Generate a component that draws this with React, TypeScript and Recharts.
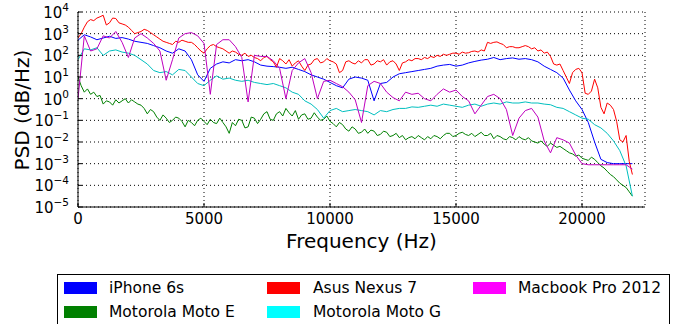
import React from "react";
import { LineChart, Line, XAxis, YAxis, CartesianGrid } from "recharts";

// frequency bins (Hz)
const FREQS = [
  0, 250, 500, 750, 1000, 1250, 1500, 1750, 2000, 2250,
  2500, 2750, 3000, 3250, 3500, 3750, 4000, 4250, 4500, 4750,
  5000, 5250, 5500, 5750, 6000, 6250, 6500, 6750, 7000, 7250,
  7500, 7750, 8000, 8250, 8500, 8750, 9000, 9250, 9500, 9750,
  10000, 10250, 10500, 10750, 11000, 11250, 11500, 11750, 12000, 12250,
  12500, 12750, 13000, 13250, 13500, 13750, 14000, 14250, 14500, 14750,
  15000, 15250, 15500, 15750, 16000, 16250, 16500, 16750, 17000, 17250,
  17500, 17750, 18000, 18250, 18500, 18750, 19000, 19250, 19500, 19750,
  20000, 20250, 20500, 20750, 21000, 21250, 21500, 21750, 22000,
];

// finer bins for the two noisiest traces
const FREQS_FINE = [
  0, 125, 250, 375, 500, 625, 750, 875, 1000, 1125,
  1250, 1375, 1500, 1625, 1750, 1875, 2000, 2125, 2250, 2375,
  2500, 2625, 2750, 2875, 3000, 3125, 3250, 3375, 3500, 3625,
  3750, 3875, 4000, 4125, 4250, 4375, 4500, 4625, 4750, 4875,
  5000, 5125, 5250, 5375, 5500, 5625, 5750, 5875, 6000, 6125,
  6250, 6375, 6500, 6625, 6750, 6875, 7000, 7125, 7250, 7375,
  7500, 7625, 7750, 7875, 8000, 8125, 8250, 8375, 8500, 8625,
  8750, 8875, 9000, 9125, 9250, 9375, 9500, 9625, 9750, 9875,
  10000, 10125, 10250, 10375, 10500, 10625, 10750, 10875, 11000, 11125,
  11250, 11375, 11500, 11625, 11750, 11875, 12000, 12125, 12250, 12375,
  12500, 12625, 12750, 12875, 13000, 13125, 13250, 13375, 13500, 13625,
  13750, 13875, 14000, 14125, 14250, 14375, 14500, 14625, 14750, 14875,
  15000, 15125, 15250, 15375, 15500, 15625, 15750, 15875, 16000, 16125,
  16250, 16375, 16500, 16625, 16750, 16875, 17000, 17125, 17250, 17375,
  17500, 17625, 17750, 17875, 18000, 18125, 18250, 18375, 18500, 18625,
  18750, 18875, 19000, 19125, 19250, 19375, 19500, 19625, 19750, 19875,
  20000, 20125, 20250, 20375, 20500, 20625, 20750, 20875, 21000, 21125,
  21250, 21375, 21500, 21625, 21750, 21875, 22000,
];

// PSD values, stored as log10
const IPHONE_6S = [
  2.7, 2.95, 2.85, 2.72, 2.8, 2.88, 2.78, 2.82, 2.75, 2.65,
  2.6, 2.55, 2.45, 2.35, 2.2, 2.1, 2.3, 2.2, 1.8, 1.1,
  0.8, 1.4, 1.6, 1.7, 1.65, 1.8, 1.75, 1.8, 1.7, 1.55,
  1.5, 1.48, 1.45, 1.4, 1.45, 1.35, 1.25, 1.1, 1.0, 0.9,
  0.75, 0.6, 0.5, 0.9, 1.0, 0.95, 0.85, -0.1, 0.7, 0.75,
  1.0, 1.15, 1.2, 1.25, 1.3, 1.35, 1.4, 1.5, 1.55, 1.58,
  1.5, 1.55, 1.65, 1.72, 1.78, 1.82, 1.9, 1.8, 1.85, 1.88,
  1.82, 1.85, 1.8, 1.7, 1.5, 1.35, 1.2, 0.95, 0.4, -0.1,
  -0.5, -1.1, -2.0, -2.8, -2.95, -3.0, -3.0, -3.0, -3.0,
];

// on FREQS_FINE
const NEXUS_7 = [
  2.8, 3.0, 3.3, 3.55, 3.65, 3.6, 3.72, 3.78, 3.85, 3.4,
  3.5, 3.72, 3.7, 3.5, 3.45, 3.4, 3.3, 3.15, 3.0, 3.05,
  3.1, 3.2, 3.15, 3.05, 2.95, 2.85, 2.75, 2.65, 2.6, 2.55,
  2.5, 2.65, 2.6, 2.7, 2.65, 2.6, 2.6, 2.5, 2.35, 2.2,
  2.1, 2.3, 2.45, 2.5, 2.4, 2.35, 2.3, 2.2, 2.1, 2.2,
  2.15, 2.05, 2.0, 2.1, 1.95, 2.0, 1.9, 1.85, 1.75, 1.9,
  1.95, 1.8, 1.7, 1.45, 1.85, 1.75, 1.6, 1.8, 1.5, 1.65,
  1.75, 1.5, 1.3, 1.55, 1.6, 1.8, 1.85, 1.65, 1.7, 1.85,
  1.75, 1.7, 1.6, 1.2, 1.3, 1.7, 1.75, 1.65, 1.6, 1.75,
  1.65, 1.8, 1.8, 1.55, 1.6, 1.75, 1.7, 1.8, 1.55, 1.7,
  1.75, 1.6, 1.3, 1.65, 1.7, 1.8, 1.75, 1.85, 1.85, 1.8,
  1.9, 1.85, 1.95, 1.9, 2.0, 1.95, 2.05, 2.0, 2.05, 2.1,
  2.1, 2.05, 2.15, 2.1, 2.12, 2.18, 2.2, 2.15, 2.25, 2.2,
  2.6, 2.55, 2.6, 2.62, 2.55, 2.5, 2.35, 2.4, 2.4, 2.35,
  2.35, 2.4, 2.45, 2.4, 2.3, 2.35, 2.2, 2.25, 2.1, 2.15,
  1.95, 1.6, 1.55, 1.6, 1.3, 1.0, 0.7, 1.2, 1.35, 1.4,
  1.2, 0.25, 0.2, 0.35, 0.9, 0.5, -0.4, -0.7, -0.2, -0.3,
  -0.5, -1.05, -1.9, -2.0, -1.7, -2.9, -3.5,
];

const MACBOOK_PRO = [
  0.0, 2.9, 2.2, 2.3, 2.9, 2.8, 3.1, 2.6, 1.9, 2.8,
  3.0, 2.8, 2.55, 2.2, 0.85, 1.8, 2.8, 3.0, 3.05, 2.9,
  2.55, 0.2, 2.5, 2.72, 2.72, 2.4, 1.9, -0.15, 2.0, 1.95,
  1.95, 1.75, 1.4, 0.0, 1.3, 1.65, 1.85, 1.2, 0.0, 0.8,
  0.85, 0.7, 0.55, 0.3, -0.05, -1.1, 0.6, 0.8, 0.7, 0.3,
  0.05, -0.1, 0.3, 0.2, 0.25, 0.0, -0.1, 0.2, 0.45, 0.3,
  0.4, 0.1, -0.1, -0.7, -0.3, 0.1, 0.2, 0.0, -0.5, -1.7,
  -0.9, -0.55, -0.45, -0.85, -1.95, -2.5, -1.8, -1.9, -2.05, -2.6,
  -3.0, -3.05, -3.05, -3.05, -3.05, -3.05, -3.05, -3.05, -3.25,
];

// on FREQS_FINE
const MOTO_E = [
  1.0, 0.6, 0.3, 0.45, 0.2, 0.3, 0.1, 0.15, -0.25, -0.1,
  -0.15, -0.3, -0.05, -0.2, -0.1, 0.0, -0.2, -0.05, -0.15, -0.25,
  -0.3, -0.45, -0.7, -0.5, -0.6, -0.85, -1.0, -0.75, -0.9, -1.1,
  -1.0, -0.85, -0.9, -1.05, -1.3, -1.0, -1.1, -1.25, -1.0, -0.9,
  -1.05, -1.2, -0.95, -1.1, -1.15, -0.9, -1.1, -1.3, -1.6, -1.1,
  -1.25, -0.95, -1.0, -1.35, -1.3, -0.85, -0.9, -1.15, -0.95, -0.7,
  -0.6, -0.95, -1.0, -0.7, -0.6, -0.8, -0.45, -0.65, -0.8, -0.55,
  -0.95, -0.75, -0.7, -0.95, -0.9, -0.65, -0.85, -1.0, -0.95, -0.8,
  -1.05, -1.15, -1.3, -1.1, -1.2, -1.4, -1.5, -1.3, -1.4, -1.6,
  -1.55, -1.4, -1.6, -1.45, -1.5, -1.7, -1.65, -1.5, -1.55, -1.75,
  -1.7, -1.6, -1.8, -1.7, -1.9, -1.8, -1.75, -1.85, -1.7, -1.8,
  -1.9, -1.75, -1.85, -1.7, -1.75, -1.85, -1.7, -1.6, -1.6, -1.75,
  -1.7, -1.6, -1.55, -1.65, -1.7, -1.6, -1.75, -1.65, -1.55, -1.7,
  -1.7, -1.6, -1.85, -1.7, -1.75, -1.85, -1.9, -1.75, -1.8, -1.9,
  -1.75, -1.85, -1.9, -1.8, -1.95, -2.0, -2.05, -1.95, -2.1, -2.2,
  -2.05, -2.15, -2.25, -2.2, -2.3, -2.4, -2.5, -2.55, -2.65, -2.6,
  -2.75, -2.8, -2.85, -2.7, -2.8, -2.95, -3.1, -3.2, -3.35, -3.5,
  -3.6, -3.75, -3.9, -4.0, -4.1, -4.3, -4.5,
];

const MOTO_G = [
  1.8, 2.3, 2.25, 2.35, 2.0, 2.2, 2.25, 2.15, 2.1, 2.0,
  1.8, 1.6, 1.3, 1.2, 1.25, 1.1, 1.35, 1.3, 1.0, 0.7,
  0.6, 0.85, 1.05, 0.9, 0.95, 0.85, 0.8, 0.85, 0.75, 0.7,
  0.65, 0.7, 0.6, 0.5, 0.3, 0.2, -0.1, -0.25, -0.5, -0.9,
  -0.55, -0.45, -0.6, -0.55, -0.5, -0.55, -0.6, -0.75, -0.55, -0.6,
  -0.5, -0.45, -0.45, -0.38, -0.4, -0.35, -0.3, -0.35, -0.25, -0.3,
  -0.35, -0.4, -0.3, -0.25, -0.35, -0.25, -0.2, -0.25, -0.15, -0.2,
  -0.2, -0.15, -0.2, -0.2, -0.25, -0.28, -0.4, -0.45, -0.6, -0.75,
  -0.9, -0.95, -1.2, -1.35, -1.6, -1.95, -2.4, -3.1, -4.5,
];

const X_TICKS = [0, 5000, 10000, 15000, 20000];
const DECADES = [-5, -4, -3, -2, -1, 0, 1, 2, 3, 4];

// draw order = matplotlib plot order (legend fills column-wise)
const SERIES = [
  { key: "iphone", name: "iPhone 6s", freqs: FREQS, values: IPHONE_6S, line: "#0000ff", patch: "#0000ff" },
  { key: "motoE", name: "Motorola Moto E", freqs: FREQS_FINE, values: MOTO_E, line: "#008000", patch: "#008000" },
  { key: "nexus", name: "Asus Nexus 7", freqs: FREQS_FINE, values: NEXUS_7, line: "#ff0000", patch: "#ff0000" },
  { key: "motoG", name: "Motorola Moto G", freqs: FREQS, values: MOTO_G, line: "#00bfbf", patch: "#00ffff" },
  { key: "macbook", name: "Macbook Pro 2012", freqs: FREQS, values: MACBOOK_PRO, line: "#bf00bf", patch: "#ff00ff" },
];

const seriesData = (s: (typeof SERIES)[number]) =>
  s.freqs.map((f, i) => ({ f, psd: Math.pow(10, s.values[i]) }));

const majorTicks = DECADES.map((d) => Math.pow(10, d));
const minorTicks: number[] = [];
DECADES.slice(0, -1).forEach((d) => {
  for (let m = 2; m <= 9; m++) minorTicks.push(m * Math.pow(10, d));
});

const FONT = "'DejaVu Sans', sans-serif";
const W = 683;
const H = 324;

const YTick = (props: any) => {
  const { x, y, payload } = props;
  const e = Math.round(Math.log10(payload.value));
  const exp = e < 0 ? "\u2212" + Math.abs(e) : String(e);
  return (
    <text x={x} y={y + 6} textAnchor="end" fontFamily={FONT} fontSize={15} fill="#000">
      <tspan>10</tspan>
      <tspan dy={-7} fontSize={10.5}>{exp}</tspan>
    </text>
  );
};

const XTick = (props: any) => {
  const { x, y, payload } = props;
  return (
    <text x={x} y={y + 11} textAnchor="middle" fontFamily={FONT} fontSize={15} fill="#000">
      {payload.value}
    </text>
  );
};

// legend slots: [series key, patch left, text left, row]
const LEGEND_SLOTS: [string, number, number, number][] = [
  ["iphone", 6, 51, 0],
  ["nexus", 209, 255, 0],
  ["macbook", 415, 460, 0],
  ["motoE", 6, 51, 1],
  ["motoG", 209, 255, 1],
];

export default function App() {
  return (
    <div style={{ position: "relative", width: W, height: H, overflow: "hidden", background: "#fff" }}>
      <style>{`body{margin:0}`}</style>
      <LineChart width={W} height={H} margin={{ top: 12, right: 38, bottom: 87, left: 0 }}>
        <CartesianGrid xAxisId="main" yAxisId="main" stroke="#000" strokeDasharray="1 3" />
        <XAxis
          xAxisId="main"
          dataKey="f"
          type="number"
          domain={[0, 22500]}
          ticks={X_TICKS}
          interval={0}
          height={30}
          tickSize={-4}
          tickMargin={10}
          tick={<XTick />}
          axisLine={{ stroke: "#000" }}
          tickLine={{ stroke: "#000" }}
          allowDataOverflow
        />
        <XAxis
          xAxisId="top"
          orientation="top"
          dataKey="f"
          type="number"
          domain={[0, 22500]}
          ticks={X_TICKS}
          interval={0}
          height={0}
          tickSize={-4}
          tick={false}
          axisLine={{ stroke: "#000" }}
          tickLine={{ stroke: "#000" }}
          allowDataOverflow
        />
        <YAxis
          yAxisId="minorL"
          scale="log"
          domain={[1e-5, 1e4]}
          ticks={minorTicks}
          interval={0}
          width={0}
          tickSize={-2}
          tick={false}
          axisLine={false}
          tickLine={{ stroke: "#000" }}
          allowDataOverflow
        />
        <YAxis
          yAxisId="main"
          scale="log"
          domain={[1e-5, 1e4]}
          ticks={majorTicks}
          interval={0}
          width={78}
          tickSize={-4}
          tickMargin={13}
          tick={<YTick />}
          axisLine={{ stroke: "#000" }}
          tickLine={{ stroke: "#000" }}
          allowDataOverflow
        />
        <YAxis
          yAxisId="majorR"
          orientation="right"
          scale="log"
          domain={[1e-5, 1e4]}
          ticks={majorTicks}
          interval={0}
          width={0}
          tickSize={-4}
          tick={false}
          axisLine={{ stroke: "#000" }}
          tickLine={{ stroke: "#000" }}
          allowDataOverflow
        />
        <YAxis
          yAxisId="minorR"
          orientation="right"
          scale="log"
          domain={[1e-5, 1e4]}
          ticks={minorTicks}
          interval={0}
          width={0}
          tickSize={-2}
          tick={false}
          axisLine={false}
          tickLine={{ stroke: "#000" }}
          allowDataOverflow
        />
        {SERIES.map((s) => (
          <Line
            key={s.key}
            data={seriesData(s)}
            xAxisId="main"
            yAxisId="main"
            type="linear"
            dataKey="psd"
            name={s.name}
            stroke={s.line}
            strokeWidth={1}
            dot={false}
            activeDot={false}
            isAnimationActive={false}
          />
        ))}
      </LineChart>

      <div
        style={{
          position: "absolute",
          left: 0,
          top: 0,
          width: 44,
          height: 219,
          display: "flex",
          alignItems: "center",
          justifyContent: "center",
        }}
      >
        <div
          style={{
            transform: "rotate(-90deg)",
            whiteSpace: "nowrap",
            fontFamily: FONT,
            fontSize: 20,
            color: "#000",
          }}
        >
          PSD (dB/Hz)
        </div>
      </div>

      <div
        style={{
          position: "absolute",
          left: 78,
          width: 567,
          top: 229,
          textAlign: "center",
          fontFamily: FONT,
          fontSize: 20,
          color: "#000",
          lineHeight: "24px",
        }}
      >
        Frequency (Hz)
      </div>

      <div
        style={{
          position: "absolute",
          left: 57,
          top: 274,
          width: 611,
          height: 70,
          border: "1px solid #000",
          background: "#fff",
          fontFamily: FONT,
          fontSize: 15.5,
          color: "#000",
        }}
      >
        {LEGEND_SLOTS.map(([key, px, tx, row]) => {
          const s = SERIES.find((v) => v.key === key)!;
          const cy = 13 + row * 24;
          return (
            <React.Fragment key={key}>
              <div
                style={{
                  position: "absolute",
                  left: px,
                  top: cy - 6,
                  width: 33,
                  height: 12,
                  background: s.patch,
                }}
              />
              <div
                style={{
                  position: "absolute",
                  left: tx,
                  top: cy - 10,
                  lineHeight: "20px",
                  whiteSpace: "nowrap",
                }}
              >
                {s.name}
              </div>
            </React.Fragment>
          );
        })}
      </div>
    </div>
  );
}
